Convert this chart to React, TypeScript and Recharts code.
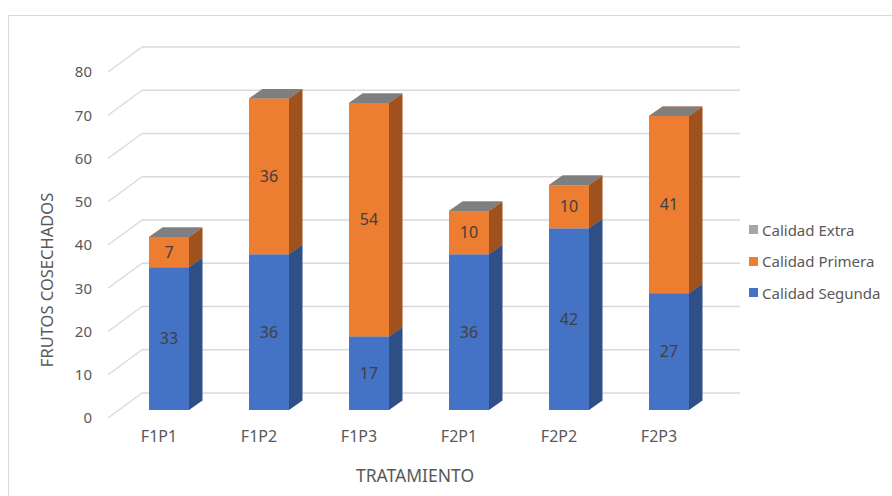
import React from 'react';
import { BarChart, Bar, XAxis, YAxis, CartesianGrid, Legend, LabelList } from 'recharts';

const categories = ['F1P1', 'F1P2', 'F1P3', 'F2P1', 'F2P2', 'F2P3'];
const segunda = [33, 36, 17, 36, 42, 27];
const primera = [7, 36, 54, 10, 10, 41];
const extra = [0, 0, 0, 0, 0, 0];
const yTicks = [0, 10, 20, 30, 40, 50, 60, 70, 80];

const data = categories.map((name, i) => ({
  name,
  segunda: segunda[i],
  primera: primera[i],
  extra: extra[i],
}));

const FONT = '"Noto Sans", "Open Sans", sans-serif';
const TEXT = '#595959';

// depth of the 3D box in px
const DX = 13.5;
const DY = -9.5;

const shades: Record<string, { front: string; side: string; top: string }> = {
  segunda: { front: '#4472C4', side: '#2F4F87', top: '#4472C4' },
  primera: { front: '#ED7D31', side: '#A0521E', top: '#ED7D31' },
  extra: { front: '#A5A5A5', side: '#6E6E6E', top: '#7F7F7F' },
};

const makeBox = (key: string) => (props: any) => {
  const { x, y, width, height } = props;
  const c = shades[key];
  const h = Math.max(0, height);
  return (
    <g>
      <polygon
        points={`${x},${y} ${x + DX},${y + DY} ${x + width + DX},${y + DY} ${x + width},${y}`}
        fill={c.top}
      />
      <polygon
        points={`${x + width},${y} ${x + width + DX},${y + DY} ${x + width + DX},${y + h + DY} ${x + width},${y + h}`}
        fill={c.side}
      />
      {h > 0 && <rect x={x} y={y} width={width} height={h} fill={c.front} />}
    </g>
  );
};

// gridline drawn on the left side wall and back wall
const gridLine = (p: any) => {
  const { x1, y1, x2, key } = p;
  return (
    <g key={key}>
      <line x1={x1 - 11} y1={y1 + 8} x2={x1 + 23} y2={y1 - 17} stroke="#D9D9D9" strokeWidth={1.3} />
      <line x1={x1 + 23} y1={y1 - 17} x2={x2 + 21} y2={y1 - 17} stroke="#D9D9D9" strokeWidth={1.3} />
    </g>
  );
};

const yTitle = (props: any) => {
  const vb = props.viewBox;
  const cx = vb.x - 13;
  const cy = vb.y + vb.height / 2 + 43;
  return (
    <text
      transform={`translate(${cx}, ${cy}) rotate(-90)`}
      textAnchor="middle"
      dominantBaseline="central"
      fill={TEXT}
      fontSize={16.5}
      fontFamily={FONT}
    >
      FRUTOS COSECHADOS
    </text>
  );
};

const legendOrder = ['Calidad Extra', 'Calidad Primera', 'Calidad Segunda'];
const legendColors: Record<string, string> = {
  'Calidad Extra': '#A5A5A5',
  'Calidad Primera': '#ED7D31',
  'Calidad Segunda': '#4472C4',
};

const renderLegend = () => (
  <div style={{ fontFamily: FONT, fontSize: 15, color: TEXT }}>
    {legendOrder.map((name) => (
      <div key={name} style={{ display: 'flex', alignItems: 'center', height: 31.5 }}>
        <span style={{ width: 9, height: 9, background: legendColors[name], marginRight: 4, display: 'inline-block' }} />
        <span>{name}</span>
      </div>
    ))}
  </div>
);

export default function App() {
  return (
    <div style={{ position: 'absolute', left: 0, top: 0, width: 892, height: 496, background: '#fff', overflow: 'hidden' }}>
      <div style={{ position: 'absolute', left: 8, top: 15, width: 900, height: 500, border: '1.5px solid #D9D9D9', boxSizing: 'border-box' }} />
      <BarChart
        width={892}
        height={496}
        data={data}
        margin={{ top: 64, right: 173, bottom: 56, left: 59 }}
        barSize={40}
        style={{ position: 'absolute', left: 0, top: 0 }}
      >
        <CartesianGrid vertical={false} horizontal={gridLine} stroke="#D9D9D9" />
        <XAxis
          dataKey="name"
          axisLine={false}
          tickLine={false}
          height={30}
          tick={{ fill: TEXT, fontSize: 16, fontFamily: FONT, dx: -10, dy: 13 }}
          label={{ value: 'TRATAMIENTO', position: 'insideBottom', offset: -42, fill: TEXT, fontSize: 17.5, fontFamily: FONT, dx: -4 }}
        />
        <YAxis
          domain={[0, 80]}
          ticks={yTicks}
          axisLine={false}
          tickLine={false}
          width={60}
          tick={{ fill: TEXT, fontSize: 15, fontFamily: FONT, dx: -19, dy: 8 }}
          label={yTitle}
        />
        <Legend
          layout="vertical"
          verticalAlign="middle"
          align="center"
          content={renderLegend}
          wrapperStyle={{ left: 749, top: 214, width: 143 }}
        />
        <Bar dataKey="segunda" name="Calidad Segunda" stackId="a" fill="#4472C4" shape={makeBox('segunda')} isAnimationActive={false}>
          <LabelList dataKey="segunda" position="center" fill="#404040" fontSize={16} fontFamily={FONT} />
        </Bar>
        <Bar dataKey="primera" name="Calidad Primera" stackId="a" fill="#ED7D31" shape={makeBox('primera')} isAnimationActive={false}>
          <LabelList dataKey="primera" position="center" fill="#404040" fontSize={16} fontFamily={FONT} />
        </Bar>
        <Bar dataKey="extra" name="Calidad Extra" stackId="a" fill="#A5A5A5" shape={makeBox('extra')} isAnimationActive={false} />
      </BarChart>
    </div>
  );
}
